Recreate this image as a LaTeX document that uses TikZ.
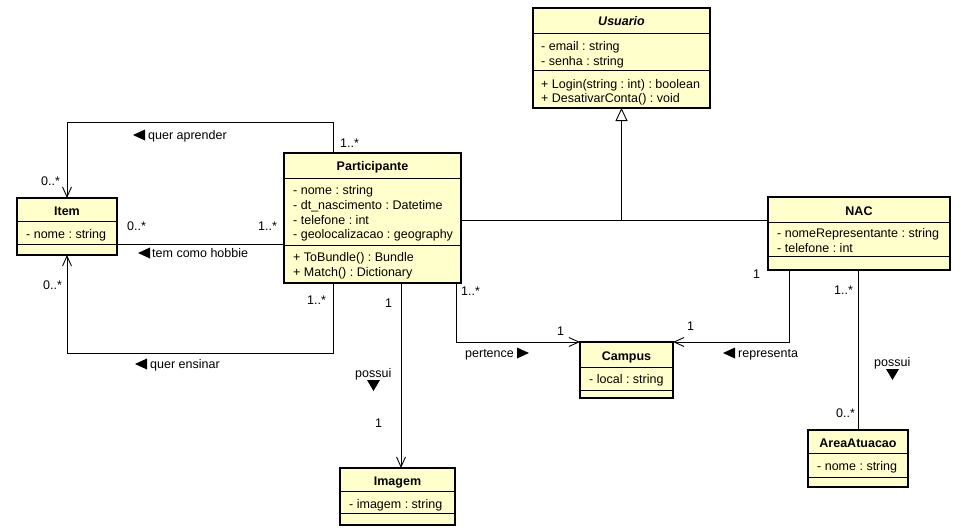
\documentclass[tikz,border=0pt]{standalone}
\usepackage{fontspec}
\setmainfont{Liberation Sans}
\usetikzlibrary{arrows.meta,calc}
\definecolor{clsfill}{RGB}{255,255,204}
\frenchspacing
\tikzset{
  cls/.style={draw, line width=2pt, fill=clsfill, anchor=north west, inner sep=0pt, outer sep=0pt},
  sepline/.style={line width=0.9pt},
  ttl/.style={anchor=base, inner sep=0pt, font=\fontsize{12.5}{15}\selectfont\bfseries},
  txt/.style={anchor=base west, inner sep=0pt},
  conn/.style={line width=0.9pt},
  nav/.style={conn, -{Straight Barb[length=10pt,width=9pt,line width=0.9pt]}},
  gen/.style={conn, -{Triangle[open,length=13pt,width=12pt,fill=white,line width=0.9pt]}},
  tri/.style={fill=black},
}
\begin{document}
\begin{tikzpicture}[x=1pt,y=-1pt,font=\fontsize{12.5}{15}\selectfont]
\useasboundingbox (0,0) rectangle (970,531);

% ---------- classes ----------
% Usuario
\node[cls, minimum width=177pt, minimum height=100pt] (usuario) at (533,8) {};
\draw[sepline] (533,33) -- (710,33);
\draw[sepline] (533,70) -- (710,70);
\node[ttl, font=\fontsize{12.5}{15}\selectfont\bfseries\itshape] (usuarioT) at (621.5,25) {Usuario};
\node[txt] (usuarioA1) at (541,50) {- email : string};
\node[txt] (usuarioA2) at (541,65) {- senha : string};
\node[txt] (usuarioM1) at (541,88) {+ Login(string : int) : boolean};
\node[txt] (usuarioM2) at (541,102) {+ DesativarConta() : void};

% Participante
\node[cls, minimum width=177pt, minimum height=130pt] (part) at (284,153) {};
\draw[sepline] (284,178) -- (461,178);
\draw[sepline] (284,245) -- (461,245);
\node[ttl] (partT) at (372.5,170) {Participante};
\node[txt] (partA1) at (293,194) {- nome : string};
\node[txt] (partA2) at (293,209) {- dt\_nascimento : Datetime};
\node[txt] (partA3) at (293,224) {- telefone : int};
\node[txt] (partA4) at (293,238) {- geolocalizacao : geography};
\node[txt] (partM1) at (293,261) {+ ToBundle() : Bundle};
\node[txt] (partM2) at (293,276) {+ Match() : Dictionary};

% Item
\node[cls, minimum width=100pt, minimum height=57pt] (item) at (17,198) {};
\draw[sepline] (17,221) -- (117,221);
\draw[sepline] (17,244) -- (117,244);
\node[ttl] (itemT) at (67,215) {Item};
\node[txt] (itemA1) at (26,238) {- nome : string};

% NAC
\node[cls, minimum width=182pt, minimum height=73pt] (nac) at (768,197) {};
\draw[sepline] (768,222) -- (950,222);
\draw[sepline] (768,256) -- (950,256);
\node[ttl] (nacT) at (859,215) {NAC};
\node[txt] (nacA1) at (777,237) {- nomeRepresentante : string};
\node[txt] (nacA2) at (777,252) {- telefone : int};

% Campus
\node[cls, minimum width=93pt, minimum height=56pt] (campus) at (580,342) {};
\draw[sepline] (580,367) -- (673,367);
\draw[sepline] (580,390) -- (673,390);
\node[ttl] (campusT) at (626.5,360) {Campus};
\node[txt] (campusA1) at (589,383) {- local : string};

% Imagem
\node[cls, minimum width=115pt, minimum height=57pt] (imagem) at (340,468) {};
\draw[sepline] (340,491) -- (455,491);
\draw[sepline] (340,513) -- (455,513);
\node[ttl] (imagemT) at (397.5,485) {Imagem};
\node[txt] (imagemA1) at (349,508) {- imagem : string};

% AreaAtuacao
\node[cls, minimum width=100pt, minimum height=57pt] (area) at (808,430) {};
\draw[sepline] (808,453) -- (908,453);
\draw[sepline] (808,477) -- (908,477);
\node[ttl] (areaT) at (858,447) {AreaAtuacao};
\node[txt] (areaA1) at (817,470) {- nome : string};

% ---------- connectors ----------
\coordinate (gy) at (600,220);
\coordinate (hob) at (200,244);

% generalization
\draw[conn] (part.east |- gy) -- (nac.west |- gy);
\draw[gen] (usuario.south |- gy) -- (usuario.south);

% quer aprender
\draw[nav] ($(part.north west)+(49,0)$) -- ++(0,-31) -| (item.north);
% tem como hobbie
\draw[conn] (part.west |- hob) -- (item.east |- hob);
% quer ensinar
\draw[nav] ($(part.south west)+(49,0)$) -- ++(0,70) -| (item.south);
% possui (Imagem)
\draw[nav] ($(part.south west)+(117,0)$) -- ($(imagem.north west)+(61,0)$);
% pertence
\draw[nav] ($(part.south east)+(-5,0)$) |- (campus.north west);
% representa
\draw[nav] ($(nac.south west)+(21,0)$) |- (campus.north east);
% possui (AreaAtuacao)
\draw[conn] (nac.south -| area.north) -- (area.north);

% ---------- multiplicities ----------
\node[txt] (m1) at (340,147) {1..*};
\node[txt] (m2) at (41,185) {0..*};
\node[txt] (m3) at (127,230) {0..*};
\node[txt] (m4) at (258,230) {1..*};
\node[txt] (m5) at (43,289) {0..*};
\node[txt] (m6) at (307,304) {1..*};
\node[txt] (m7) at (461,295) {1..*};
\node[txt] (m8) at (557,335) {1};
\node[txt] (m9) at (687,330) {1};
\node[txt] (m10) at (753,278) {1};
\node[txt] (m11) at (834,294) {1..*};
\node[txt] (m12) at (836,417) {0..*};
\node[txt] (m13) at (385,307) {1};
\node[txt] (m14) at (375,427) {1};

% ---------- association labels ----------
\node[txt] (l1) at (148,139) {quer aprender};
\fill[tri] (133,135) -- (145,129.5) -- (145,140.5) -- cycle;
\node[txt] (l2) at (152,257) {tem como hobbie};
\fill[tri] (138,253) -- (150,247.5) -- (150,258.5) -- cycle;
\node[txt] (l3) at (150,368) {quer ensinar};
\fill[tri] (135,364) -- (147,358.5) -- (147,369.5) -- cycle;
\node[txt] (l4) at (465,357) {pertence};
\fill[tri] (529,353) -- (517,347.5) -- (517,358.5) -- cycle;
\node[txt] (l5) at (738,357) {representa};
\fill[tri] (723,353) -- (735,347.5) -- (735,358.5) -- cycle;
\node[txt] (l6) at (355,377) {possui};
\fill[tri] (367,380) -- (380,380) -- (373.5,391) -- cycle;
\node[txt] (l7) at (874,366) {possui};
\fill[tri] (886,369) -- (899,369) -- (892.5,380) -- cycle;
\end{tikzpicture}
\end{document}
